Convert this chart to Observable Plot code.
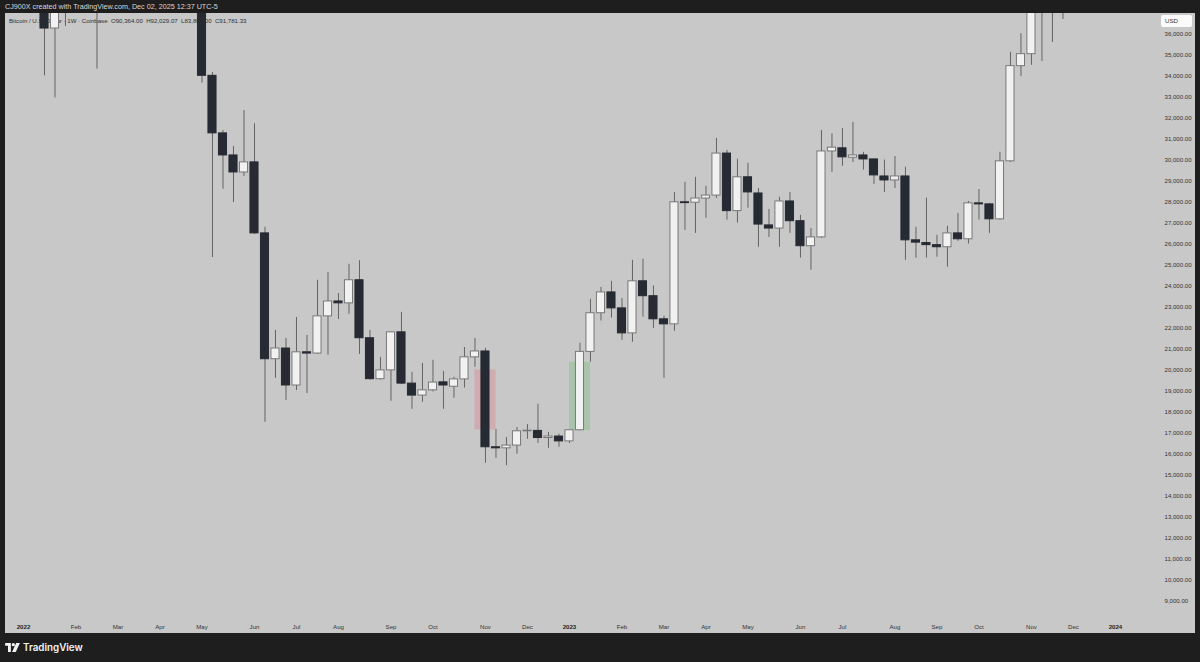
<!DOCTYPE html>
<html><head><meta charset="utf-8">
<script src="https://cdn.jsdelivr.net/npm/d3@7"></script>
<script src="https://cdn.jsdelivr.net/npm/@observablehq/plot@0.6"></script>
<style>
html,body{margin:0;padding:0;background:#1e1e1e;width:1200px;height:662px;overflow:hidden;font-family:"Liberation Sans",Arial,sans-serif;}
#top{position:absolute;left:5px;top:2px;font-size:7.2px;color:#d8d8d8;white-space:nowrap;}
#panel{position:absolute;left:5px;top:13px;width:1190px;height:620px;background:#c8c8c8;}
#legend{position:absolute;left:9px;top:16.5px;font-size:6.1px;color:#2f2f2f;z-index:1;white-space:nowrap;}
#chart{position:absolute;left:5px;top:13px;z-index:2;}
#usd{position:absolute;left:1161px;top:15px;width:31px;height:12px;background:#fbfbfb;border-radius:2px;z-index:3;font-size:6.2px;color:#333;line-height:12px;padding-left:4px;box-sizing:border-box;}
#brand{position:absolute;left:5px;top:640px;height:14px;display:flex;align-items:center;gap:3px;color:#f2f2f2;font-size:9.8px;font-weight:600;font-family:Inter,"Noto Sans",sans-serif;}
</style></head>
<body>
<div id="top">CJ900X created with TradingView.com, Dec 02, 2025 12:37 UTC-5</div>
<div id="panel"></div>
<div id="legend">Bitcoin / U.S. Dollar · 1W · Coinbase&nbsp; O90,364.00&nbsp; H92,029.07&nbsp; L83,800.00&nbsp; C91,781.33</div>
<div id="chart"></div>
<div id="usd">USD</div>
<div id="brand"><svg width="15" height="9" viewBox="0 0 36 22"><path d="M0 0H14V22H7V7H0Z" fill="#f2f2f2"/><circle cx="20" cy="4" r="4" fill="#f2f2f2"/><path d="M27 0H36L26 22H17Z" fill="#f2f2f2"/></svg><span>TradingView</span></div>
<script>
// Weekly candles, Coinbase BTC/USD, starting week of 2022-01-03
const firstWeek = "2022-01-03";
const lastWeek = "2023-11-27";
const open = [47300,41850,43100,36250,38450,42400,42200,38400,37700,38420,37800,41250,46800,46400,42150,39700,39450,38450,34000,31260,30210,29400,29880,26500,20510,21020,19260,20840,20780,22550,23260,23170,24270,21510,19560,19980,21790,19350,18780,19030,19410,19200,19550,20600,20880,16320,16270,16400,17080,17100,16760,16830,16600,17130,20860,22700,23690,22930,21740,24220,23510,22410,22170,27980,27960,28160,28300,30300,27560,29170,28400,26880,26730,28020,27080,25890,26310,30400,30550,30100,30210,30020,29210,29020,29210,26170,26040,25940,25840,26500,26220,27930,27880,27170,29930,34460,35030,37050,37360,37450];
const high = [47550,44450,43500,38950,44500,45850,44750,39850,45400,42600,42300,48200,48200,47200,42400,42950,40800,39900,34160,31400,30640,32350,31720,26790,21880,21500,22500,21640,24270,24640,23640,25030,25200,21880,20600,21800,22740,19890,20310,20460,19930,19650,21070,21500,21030,17170,16780,17260,17400,18370,17030,16940,17130,21270,23360,23930,24220,23400,25220,25270,24000,22560,28450,28930,29170,28740,31020,30450,30030,29840,28640,27640,28220,28450,27360,26730,31400,31240,31490,31780,30360,30040,29990,30160,29650,26790,28180,26410,26840,27450,28020,28590,27930,30360,35120,36010,37950,37980,38420,40250];
const low = [40500,39650,34000,32950,36350,41700,38000,34320,37450,37150,37550,40500,44200,42000,39200,38550,37700,33650,25350,28600,27970,29210,26450,17510,19600,18550,19020,18880,20740,20700,22400,22650,20740,19520,19520,18510,19300,18130,18460,18950,18130,18650,19140,20120,15560,15790,15450,15990,16700,16500,16270,16320,16500,17100,20370,22330,22470,21410,21320,22510,21980,19600,21840,26640,26500,27220,28160,27130,26990,27700,25840,26310,25840,26500,25320,24740,26260,29400,29690,29870,29510,28830,28450,28640,25220,25320,25320,25370,24890,26120,25990,27130,26500,27130,29880,33960,34500,34680,35590,36680];
const close = [41850,43100,36250,38450,42400,42200,38400,37700,38420,37800,41250,46800,46400,42150,39700,39450,38450,34000,31260,30210,29400,29880,26500,20510,21020,19260,20840,20780,22550,23260,23170,24270,21510,19560,19980,21790,19350,18780,19030,19400,19260,19550,20600,20880,16320,16270,16400,17080,17110,16760,16830,16600,17130,20860,22700,23690,22930,21740,24220,23510,22410,22170,27980,27940,28160,28300,30300,27560,29170,28450,26920,26730,28020,27080,25890,26310,30400,30580,30120,30210,30020,29260,29020,29210,26170,26060,25940,25840,26500,26220,27930,27880,27170,29930,34460,35030,37050,37360,37450,39950];

// highlighted zones
const zoneStart = ["2022-10-31","2023-01-02"];
const zoneEnd = ["2022-11-14","2023-01-16"];
const zoneLow = [17150,17120];
const zoneHigh = [20000,20360];
const zoneColor = ["rgba(236,70,85,0.22)","rgba(70,185,80,0.25)"];

// axis ticks
const yTicks = [9000,10000,11000,12000,13000,14000,15000,16000,17000,18000,19000,20000,21000,22000,23000,24000,25000,26000,27000,28000,29000,30000,31000,32000,33000,34000,35000,36000];
const tickDates = ["2022-01-03","2022-02-07","2022-03-07","2022-04-04","2022-05-02","2022-06-06","2022-07-04","2022-08-01","2022-09-05","2022-10-03","2022-11-07","2022-12-05","2023-01-02","2023-02-06","2023-03-06","2023-04-03","2023-05-01","2023-06-05","2023-07-03","2023-08-07","2023-09-04","2023-10-02","2023-11-06","2023-12-04","2024-01-01"];
const tickLabels = ["2022","Feb","Mar","Apr","May","Jun","Jul","Aug","Sep","Oct","Nov","Dec","2023","Feb","Mar","Apr","May","Jun","Jul","Aug","Sep","Oct","Nov","Dec","2024"];

const DAY = 864e5;
const weeks = d3.utcMonday.range(new Date(firstWeek), new Date(+new Date(lastWeek) + DAY));
const candles = weeks.map((date, i) => ({date, open: open[i], high: high[i], low: low[i], close: close[i], up: close[i] >= open[i]}));
const zones = zoneStart.map((s, i) => ({x1: new Date(s), x2: new Date(zoneEnd[i]), y1: zoneLow[i], y2: zoneHigh[i], fill: zoneColor[i]}));
const ticks = tickDates.map((d, i) => ({date: new Date(d), label: tickLabels[i], year: /^\d{4}$/.test(tickLabels[i])}));
const labelOf = new Map(ticks.map(t => [+t.date, t.label]));

const t0 = +new Date(firstWeek);
const half = 2.7 * DAY;
const chart = Plot.plot({
  width: 1190, height: 620,
  marginLeft: 0, marginRight: 34, marginTop: 0, marginBottom: 20,
  style: {background: "transparent", fontFamily: "'Liberation Sans', Arial, sans-serif", fontSize: "6.1px", color: "#3c3c3c", overflow: "visible"},
  x: {type: "utc", domain: [new Date(t0 - 12 * DAY), new Date(t0 + 758.7 * DAY)], axis: null},
  y: {domain: [8408, 36966], axis: null},
  marks: [
    Plot.rect(zones, {x1: "x1", x2: "x2", y1: "y1", y2: "y2", fill: "fill", clip: true}),
    Plot.ruleX(candles, {x: "date", y1: "low", y2: "high", stroke: "#646464", strokeWidth: 1, clip: true}),
    Plot.rect(candles, {
      x1: d => new Date(+d.date - half), x2: d => new Date(+d.date + half),
      y1: "open", y2: "close",
      fill: d => d.up ? "#f1f1f1" : "#262a33",
      stroke: d => d.up ? "#787878" : "#262a33",
      strokeWidth: 1, clip: true
    }),
    Plot.axisY({anchor: "right", ticks: yTicks, tickFormat: d3.format(",.2f"), tickSize: 0, tickPadding: 3, label: null, textAnchor: "start", fill: "#333333"}),
    Plot.axisX({anchor: "bottom", ticks: ticks.filter(t => !t.year).map(t => t.date), tickFormat: d => labelOf.get(+d), tickSize: 0, tickPadding: 11, label: null, fill: "#333333"}),
    Plot.axisX({anchor: "bottom", ticks: ticks.filter(t => t.year).map(t => t.date), tickFormat: d => labelOf.get(+d), tickSize: 0, tickPadding: 11, label: null, fill: "#1e1e1e", fontWeight: "bold"})
  ]
});
document.getElementById("chart").appendChild(chart);
</script>
</body></html>
